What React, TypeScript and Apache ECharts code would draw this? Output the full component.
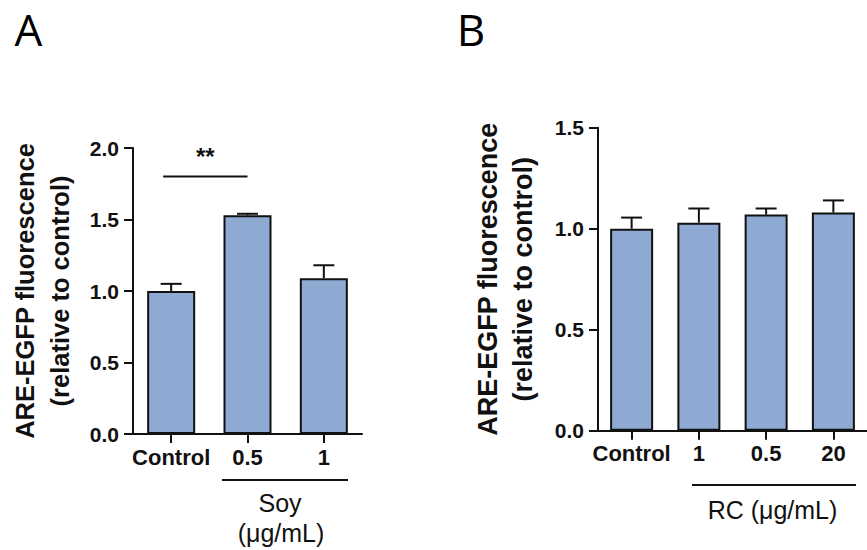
import React, { useEffect, useRef } from "react";
import * as echarts from "echarts";

const catsA = ["Control", "0.5", "1"];
const meanA = [1.0, 1.53, 1.09];
const errA = [1.05, 1.54, 1.18];
const sigA = { from: 0, to: 1, y: 1.8, label: "**" };

const catsB = ["Control", "1", "0.5", "20"];
const meanB = [1.0, 1.03, 1.07, 1.08];
const errB = [1.055, 1.1, 1.1, 1.14];

const yTitle = "ARE-EGFP fluorescence\n(relative to control)";
const BAR_COLOR = "#8eaad2";
const FONT = "Liberation Sans, Arial, sans-serif";
const LETTER_FONT = "Open Sans, Noto Sans, sans-serif";

export default function App() {
  const ref = useRef<HTMLDivElement>(null);
  useEffect(() => {
    const chart = echarts.init(ref.current!, null, { renderer: "svg" });

    const axisLine = { show: true, lineStyle: { color: "#111", width: 2 } };
    const axisTick = { show: true, length: 9, lineStyle: { color: "#111", width: 2 } };
    const yLabel = { fontFamily: FONT, fontWeight: "bold", fontSize: 21, color: "#111", margin: 14, formatter: (v: number) => v.toFixed(1) };
    const xLabel = { fontFamily: FONT, fontWeight: "bold", fontSize: 22, color: "#111", margin: 12, interval: 0 };

    const errRender = (params: any, api: any) => {
      const x = api.value(0);
      const top = api.coord([x, api.value(2)]);
      const base = api.coord([x, api.value(1)]);
      const half = 10.5;
      return {
        type: "group",
        children: [
          { type: "line", shape: { x1: top[0], y1: base[1], x2: top[0], y2: top[1] }, style: { stroke: "#111", lineWidth: 2 } },
          { type: "line", shape: { x1: top[0] - half, y1: top[1], x2: top[0] + half, y2: top[1] }, style: { stroke: "#111", lineWidth: 2 } },
        ],
      };
    };

    const option: any = {
      animation: false,
      grid: [
        { left: 133, top: 148, width: 229, height: 286 },
        { left: 598, top: 127.7, width: 272, height: 303 },
      ],
      xAxis: [
        { type: "category", gridIndex: 0, data: catsA, axisLine, axisTick: { ...axisTick, alignWithLabel: true }, axisLabel: xLabel },
        { type: "category", gridIndex: 1, data: catsB, axisLine, axisTick: { ...axisTick, alignWithLabel: true }, axisLabel: xLabel },
      ],
      yAxis: [
        {
          type: "value", gridIndex: 0, min: 0, max: 2, interval: 0.5, axisLine, axisTick, axisLabel: yLabel, splitLine: { show: false },
          name: yTitle, nameLocation: "middle", nameRotate: 90, nameGap: 56,
          nameTextStyle: { fontFamily: FONT, fontWeight: "bold", fontSize: 25.5, lineHeight: 35, color: "#111", align: "center" },
        },
        {
          type: "value", gridIndex: 1, min: 0, max: 1.5, interval: 0.5, axisLine, axisTick, axisLabel: yLabel, splitLine: { show: false },
          name: yTitle, nameLocation: "middle", nameRotate: 90, nameGap: 58,
          nameTextStyle: { fontFamily: FONT, fontWeight: "bold", fontSize: 27, lineHeight: 35, color: "#111", align: "center" },
        },
      ],
      series: [
        { type: "bar", xAxisIndex: 0, yAxisIndex: 0, data: meanA, barWidth: 48, itemStyle: { color: BAR_COLOR, borderColor: "#111", borderWidth: 2 } },
        { type: "bar", xAxisIndex: 1, yAxisIndex: 1, data: meanB, barWidth: 43, itemStyle: { color: BAR_COLOR, borderColor: "#111", borderWidth: 2 } },
        { type: "custom", xAxisIndex: 0, yAxisIndex: 0, renderItem: errRender, data: meanA.map((m, i) => [i, m, errA[i]]), z: 3 },
        { type: "custom", xAxisIndex: 1, yAxisIndex: 1, renderItem: errRender, data: meanB.map((m, i) => [i, m, errB[i]]), z: 3 },
        {
          type: "custom", xAxisIndex: 0, yAxisIndex: 0, z: 3,
          data: [[sigA.from, sigA.to, sigA.y]],
          renderItem: (params: any, api: any) => {
            const a = api.coord([api.value(0), api.value(2)]);
            const b = api.coord([api.value(1), api.value(2)]);
            const x1 = a[0] - 8;
            const x2 = b[0];
            return {
              type: "group",
              children: [
                { type: "line", shape: { x1, y1: a[1], x2, y2: a[1] }, style: { stroke: "#111", lineWidth: 2 } },
                { type: "text", style: { x: (x1 + x2) / 2, y: a[1] - 20, text: sigA.label, fontFamily: FONT, fontWeight: "bold", fontSize: 24, fill: "#111", align: "center", verticalAlign: "middle" } },
              ],
            };
          },
        },
      ],
      graphic: [
        { type: "text", x: 28.5, y: 29, style: { text: "A", fontFamily: LETTER_FONT, fontSize: 44, lineHeight: 44, fill: "#000", align: "center", verticalAlign: "middle" } },
        { type: "text", x: 471, y: 29, style: { text: "B", fontFamily: LETTER_FONT, fontSize: 44, lineHeight: 44, fill: "#000", align: "center", verticalAlign: "middle" } },
        { type: "line", shape: { x1: 222, y1: 480, x2: 348, y2: 480 }, style: { stroke: "#111", lineWidth: 2 } },
        { type: "text", x: 280, y: 503, style: { text: "Soy", fontFamily: FONT, fontSize: 25, fill: "#111", align: "center", verticalAlign: "middle" } },
        { type: "text", x: 281, y: 533, style: { text: "(μg/mL)", fontFamily: FONT, fontSize: 25, fill: "#111", align: "center", verticalAlign: "middle" } },
        { type: "line", shape: { x1: 692, y1: 485, x2: 856, y2: 485 }, style: { stroke: "#111", lineWidth: 2 } },
        { type: "text", x: 772.5, y: 510, style: { text: "RC (μg/mL)", fontFamily: FONT, fontSize: 25, fill: "#111", align: "center", verticalAlign: "middle" } },
      ],
    };
    chart.setOption(option);
    return () => chart.dispose();
  }, []);
  return <div ref={ref} style={{ position: "fixed", left: 0, top: 0, width: 867, height: 550, background: "#fff" }} />;
}
